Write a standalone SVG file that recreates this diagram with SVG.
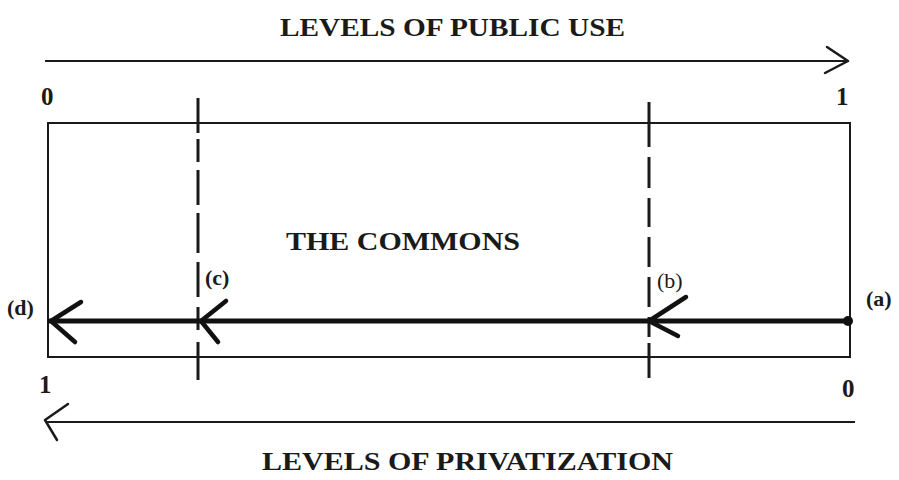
<svg xmlns="http://www.w3.org/2000/svg" width="899" height="480" viewBox="0 0 899 480">
  <style>
    text { font-family: "Liberation Serif", "Times New Roman", serif; fill: #1a1a1a; }
    .title { font-size: 26px; font-weight: bold; }
    .num { font-size: 25px; font-weight: bold; }
    .lbl { font-size: 22px; font-weight: bold; }
    .lbl-light { font-size: 22px; }
    .thin { stroke: #1a1a1a; stroke-width: 2; fill: none; }
    .cut { stroke: #1a1a1a; stroke-width: 3; fill: none; }
    .flow { stroke: #111; stroke-width: 5; fill: none; stroke-linecap: round; }
    .head { stroke: #111; stroke-width: 4.5; fill: none; stroke-linecap: round; stroke-linejoin: round; }
    .scale-head { stroke: #1a1a1a; stroke-width: 2.5; fill: none; stroke-linecap: round; stroke-linejoin: round; }
  </style>

  <rect width="899" height="480" fill="#ffffff"/>

  <!-- public use scale (top) -->
  <g id="public-use-scale">
    <text class="title" x="280" y="36" textLength="345" lengthAdjust="spacingAndGlyphs">LEVELS OF PUBLIC USE</text>
    <text class="num" x="41" y="105">0</text>
    <text class="num" x="836" y="105">1</text>
  </g>

  <!-- the commons box -->
  <g id="commons">
    <rect class="thin" x="48" y="123" width="802" height="234"/>
    <text class="title" x="286" y="250" textLength="234" lengthAdjust="spacingAndGlyphs">THE COMMONS</text>
  </g>

  <!-- privatization scale (bottom) -->
  <g id="privatization-scale">
    <text class="title" x="262" y="470" textLength="411" lengthAdjust="spacingAndGlyphs">LEVELS OF PRIVATIZATION</text>
    <text class="num" x="39" y="393">1</text>
    <text class="num" x="842" y="397">0</text>
  </g>

  <!-- points along the path -->
  <g id="point-a">
    <circle cx="848" cy="321" r="5" fill="#111"/>
    <text class="lbl" x="866" y="306">(a)</text>
  </g>
  <g id="point-b">
    <text class="lbl-light" x="657" y="288">(b)</text>
  </g>
  <g id="point-c">
    <text class="lbl" x="205" y="285">(c)</text>
  </g>
  <g id="point-d">
    <text class="lbl" x="7" y="315">(d)</text>
  </g>

  <!-- connectors -->
  <g id="connectors">
    <!-- top scale arrow -->
    <line class="thin" x1="45" y1="61" x2="847" y2="61"/>
    <polyline class="scale-head" points="827,47 848,61 825,73"/>

    <!-- bottom scale arrow -->
    <line class="thin" x1="46" y1="422" x2="855" y2="422"/>
    <polyline class="scale-head" points="68,404 45,420 57,440"/>

    <!-- dashed thresholds -->
    <line class="cut" x1="198" y1="98" x2="198" y2="380" stroke-dasharray="35 6 23 8 35 8 40 9 35 10 23 12 38"/>
    <line class="cut" x1="649" y1="102" x2="649" y2="378" stroke-dasharray="45 10 31 10 29 10 30 10 30 10 20 6 35"/>

    <!-- movement from (a) to (d) -->
    <line class="flow" x1="50" y1="321" x2="848" y2="321"/>
    <polyline class="head" points="686,297 649,321 678,336"/>
    <polyline class="head" points="226,301 201,321 218,342"/>
    <polyline class="head" points="81,302 51,321 75,342"/>
  </g>
</svg>
